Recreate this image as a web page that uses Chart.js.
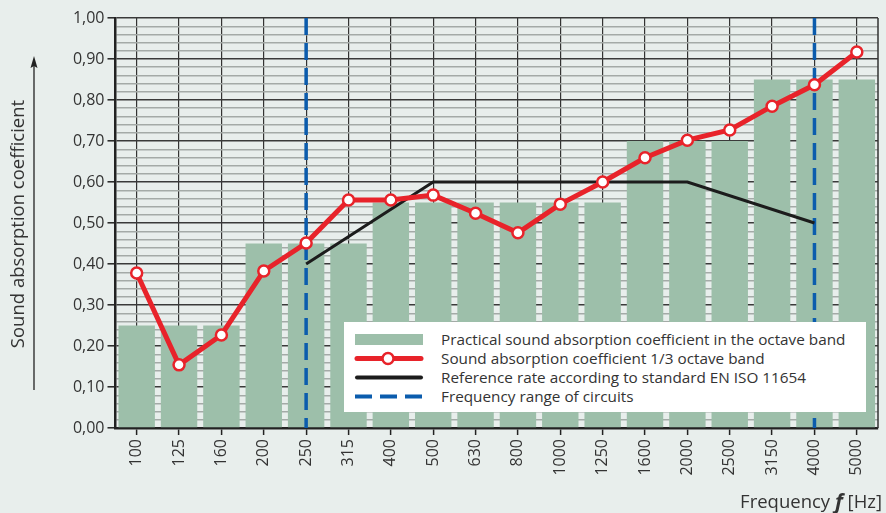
<!DOCTYPE html>
<html>
<head>
<meta charset="utf-8">
<script src="https://cdn.jsdelivr.net/npm/chart.js@4/dist/chart.umd.min.js"></script>
<style>
  html, body { margin: 0; padding: 0; background: #e8eeec; }
  #wrap { position: relative; width: 886px; height: 513px; overflow: hidden; }
  #chart { position: absolute; left: 0; top: 0; }
  #legend { position: absolute; left: 344px; top: 322px; width: 522px; height: 90px; background: #ffffff;
            font-family: 'Open Sans', sans-serif; font-size: 15.3px; color: #333333; }
  .row { position: absolute; left: 0; width: 100%; height: 19px; }
  .row svg { position: absolute; left: 10px; top: 0; }
  .row span { position: absolute; left: 97px; top: 0; line-height: 19px; white-space: nowrap; }
</style>
</head>
<body>
<div id="wrap">
  <canvas id="chart" width="886" height="513"></canvas>
  <div id="legend"></div>
</div>
<script>
// ---- data ----
const categories = ['100','125','160','200','250','315','400','500','630','800','1000','1250','1600','2000','2500','3150','4000','5000'];
const octaveBandValues = [0.25,0.25,0.25,0.45,0.45,0.45,0.55,0.55,0.55,0.55,0.55,0.55,0.70,0.70,0.70,0.85,0.85,0.85];
const thirdOctaveValues = [0.378,0.154,0.227,0.383,0.451,0.556,0.556,0.568,0.524,0.476,0.546,0.600,0.659,0.702,0.727,0.785,0.837,0.917];
const referenceValues = [null,null,null,null,0.40,null,null,0.60,null,null,null,null,null,0.60,null,null,0.50,null];
const rangeLimits = ['250','4000'];
const legendLabels = [
  'Practical sound absorption coefficient in the octave band',
  'Sound absorption coefficient 1/3 octave band',
  'Reference rate according to standard EN ISO 11654',
  'Frequency range of circuits'
];
const yAxisTitle = 'Sound absorption coefficient';
const xAxisTitleParts = ['Frequency ', 'f', ' [Hz]'];

// ---- colours ----
const C_BAR = '#9dbfaa';
const C_RED = '#e8232a';
const C_BLACK = '#1c1c1c';
const C_BLUE = '#0b5cad';
const C_TEXT = '#333333';

const isMajor = v => Math.abs(v * 10 - Math.round(v * 10)) < 1e-6;

const extras = {
  id: 'extras',
  beforeDatasetsDraw(chart) {
    const { ctx, chartArea } = chart;
    ctx.save();
    ctx.strokeStyle = '#333';
    ctx.lineWidth = 1.5;
    ctx.beginPath();
    ctx.moveTo(chartArea.right, chartArea.top);
    ctx.lineTo(chartArea.right, chartArea.bottom);
    ctx.stroke();
    ctx.restore();
  },
  afterDatasetDraw(chart, args) {
    if (args.index !== 0) return;
    const { ctx, chartArea, scales } = chart;
    ctx.save();
    ctx.strokeStyle = C_BLUE;
    ctx.lineWidth = 3.5;
    ctx.setLineDash([17, 8]);
    rangeLimits.forEach(lbl => {
      const x = scales.x.getPixelForValue(categories.indexOf(lbl));
      ctx.beginPath();
      ctx.moveTo(x, chartArea.top);
      ctx.lineTo(x, chartArea.bottom);
      ctx.stroke();
    });
    ctx.restore();
  },
  afterDraw(chart) {
    const { ctx, chartArea } = chart;
    ctx.save();
    // y title
    ctx.fillStyle = C_TEXT;
    ctx.font = '18.5px "Open Sans"';
    ctx.textAlign = 'center';
    ctx.textBaseline = 'middle';
    ctx.translate(19, 224);
    ctx.rotate(-Math.PI / 2);
    ctx.fillText(yAxisTitle, 0, 0);
    ctx.restore();
    // arrow
    ctx.save();
    ctx.strokeStyle = '#222';
    ctx.fillStyle = '#222';
    ctx.lineWidth = 1.3;
    ctx.beginPath();
    ctx.moveTo(34, 390);
    ctx.lineTo(34, 64);
    ctx.stroke();
    ctx.beginPath();
    ctx.moveTo(34, 56);
    ctx.lineTo(37.5, 68);
    ctx.lineTo(34, 66);
    ctx.lineTo(30.5, 68);
    ctx.closePath();
    ctx.fill();
    ctx.restore();
    // x title
    ctx.save();
    ctx.fillStyle = C_TEXT;
    ctx.textBaseline = 'middle';
    const fN = '18.5px "Open Sans"';
    const fB = 'italic bold 21px "Open Sans"';
    ctx.font = fN; const w1 = ctx.measureText(xAxisTitleParts[0]).width;
    ctx.font = fB; const w2 = ctx.measureText(xAxisTitleParts[1]).width;
    ctx.font = fN; const w3 = ctx.measureText(xAxisTitleParts[2]).width;
    let x = 882 - (w1 + w2 + w3);
    const y = 503;
    ctx.textAlign = 'left';
    ctx.font = fN; ctx.fillText(xAxisTitleParts[0], x, y); x += w1;
    ctx.font = fB; ctx.fillText(xAxisTitleParts[1], x, y); x += w2;
    ctx.font = fN; ctx.fillText(xAxisTitleParts[2], x, y);
    ctx.restore();
  }
};

new Chart(document.getElementById('chart'), {
  type: 'bar',
  data: {
    labels: categories,
    datasets: [
      {
        type: 'bar',
        label: legendLabels[0],
        data: octaveBandValues,
        backgroundColor: C_BAR,
        borderWidth: 0,
        barPercentage: 0.86,
        categoryPercentage: 1.0,
        order: 3
      },
      {
        type: 'line',
        label: legendLabels[2],
        data: referenceValues,
        borderColor: C_BLACK,
        borderWidth: 3,
        pointRadius: 0,
        spanGaps: true,
        tension: 0,
        order: 2
      },
      {
        type: 'line',
        label: legendLabels[1],
        data: thirdOctaveValues,
        borderColor: C_RED,
        borderWidth: 5,
        pointRadius: 5.5,
        pointBorderWidth: 2.5,
        pointBackgroundColor: '#ffffff',
        pointBorderColor: C_RED,
        tension: 0,
        order: 1
      }
    ]
  },
  options: {
    responsive: false,
    animation: false,
    devicePixelRatio: 1,
    layout: { padding: { left: 0, right: 5.5, top: 18, bottom: 0 } },
    plugins: { legend: { display: false }, tooltip: { enabled: false } },
    scales: {
      x: {
        offset: true,
        afterFit: s => { s.height = 85; },
        grid: {
          offset: false,
          color: '#333',
          lineWidth: 1.2,
          drawTicks: true,
          tickLength: 7,
          tickColor: '#222',
          tickWidth: 1.5
        },
        border: { display: true, color: '#222', width: 2.5 },
        ticks: {
          autoSkip: false,
          minRotation: 90,
          maxRotation: 90,
          padding: 4,
          color: C_TEXT,
          font: { family: 'Open Sans', size: 16 }
        }
      },
      y: {
        min: 0,
        max: 1,
        afterFit: s => { s.width = 115.5; },
        afterBuildTicks: s => {
          const t = [];
          for (let i = 0; i <= 50; i++) t.push({ value: i / 50 });
          s.ticks = t;
        },
        grid: {
          color: c => isMajor(c.tick.value) ? '#3a3a3a' : '#a4aaa7',
          lineWidth: c => isMajor(c.tick.value) ? 1.6 : 1.4,
          drawTicks: true,
          tickLength: 8,
          tickColor: c => isMajor(c.tick.value) ? '#222' : 'rgba(0,0,0,0)',
          tickWidth: 1.5
        },
        border: { display: true, color: '#222', width: 2.5 },
        ticks: {
          autoSkip: false,
          padding: 3,
          color: C_TEXT,
          font: { family: 'Open Sans', size: 16 },
          callback: v => isMajor(v) ? v.toFixed(2).replace('.', ',') : ''
        }
      }
    }
  },
  plugins: [extras]
});

// ---- legend (HTML text) ----
const legendEl = document.getElementById('legend');
const rowTops = [8, 27, 46, 65];
const swatches = [
  '<svg width="70" height="19"><rect x="1" y="4" width="68" height="11" fill="' + C_BAR + '"/></svg>',
  '<svg width="70" height="19"><line x1="3" y1="9.5" x2="67" y2="9.5" stroke="' + C_RED + '" stroke-width="5" stroke-linecap="round"/><circle cx="34" cy="9.5" r="5.5" fill="#fff" stroke="' + C_RED + '" stroke-width="2.5"/></svg>',
  '<svg width="70" height="19"><line x1="3" y1="9.5" x2="67" y2="9.5" stroke="' + C_BLACK + '" stroke-width="4" stroke-linecap="round"/></svg>',
  '<svg width="70" height="19"><line x1="1" y1="9.5" x2="69" y2="9.5" stroke="' + C_BLUE + '" stroke-width="4" stroke-dasharray="17 8"/></svg>'
];
legendLabels.forEach((lbl, i) => {
  const r = document.createElement('div');
  r.className = 'row';
  r.style.top = rowTops[i] + 'px';
  r.innerHTML = swatches[i] + '<span></span>';
  r.querySelector('span').textContent = lbl;
  legendEl.appendChild(r);
});
</script>
</body>
</html>
